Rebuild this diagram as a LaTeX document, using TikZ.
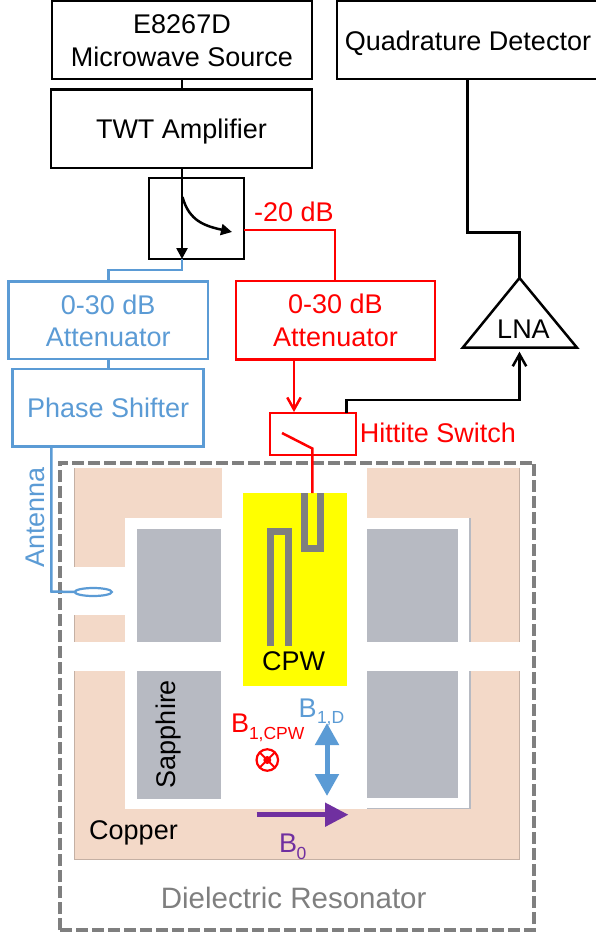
\documentclass[tikz,border=0pt]{standalone}
\usepackage{fontspec}
\setmainfont{Liberation Sans}
\usetikzlibrary{arrows.meta,calc,shapes.geometric}
\definecolor{myblue}{RGB}{91,155,213}
\definecolor{mypurple}{RGB}{112,48,160}
\definecolor{myred}{RGB}{255,0,0}
\definecolor{myyellow}{RGB}{255,255,0}
\definecolor{copperc}{RGB}{243,217,200}
\definecolor{copperedge}{RGB}{196,176,164}
\definecolor{sapph}{RGB}{183,186,194}
\definecolor{lab}{RGB}{127,127,127}
\newcommand{\fh}[1]{\rule{0pt}{#1pt}}
\newcommand{\fd}{\rule[-5.7pt]{0pt}{5.7pt}}
\tikzset{
  sys/.style={x=1pt,y=-1pt},
  boxk/.style={draw=black,line width=2.5pt,inner sep=0pt,outer sep=0pt,anchor=north west,align=center,font=\fontsize{27}{32.5}\selectfont},
  boxb/.style={boxk,draw=myblue,text=myblue},
  boxr/.style={boxk,draw=myred,text=myred},
  wire/.style={line width=2.5pt,line join=miter},
  wireb/.style={wire,draw=myblue},
  wirer/.style={wire,draw=myred},
  tipk/.style={-{Triangle[length=11pt,width=11pt]}},
  tipo/.style={-{Straight Barb[length=12pt,width=13.5pt,line width=2.5pt]}},
  lbl/.style={inner sep=0pt,outer sep=0pt,anchor=base,font=\fontsize{27}{33}\selectfont},
  lblw/.style={lbl,anchor=base west},
  subl/.style={inner sep=0pt,outer sep=0pt,anchor=base west,font=\fontsize{17.5}{21}\selectfont},
  copperfill/.style={fill=copperc,draw=none},
  whitefill/.style={fill=white,draw=none},
  sapphfill/.style={fill=sapph,draw=none},
  meander/.style={draw=lab,line width=6.5pt,line join=miter},
}
\begin{document}
\begin{tikzpicture}[sys]
\useasboundingbox (0,0) rectangle (595,935);
% copper block
\fill[copperfill] (74.7,468) rectangle (519,859);
\draw[copperedge,line width=.7pt] (519,468) -- (519,859) -- (74.7,859) -- (74.7,671);
\draw[copperedge,line width=.7pt] (74.7,468) -- (74.7,567) (74.7,615) -- (74.7,642);
% cavity
\fill[whitefill] (125,518.3) rectangle (469,808.5);
\fill[whitefill] (222,460) rectangle (367,520);
\fill[whitefill] (60,567) rectangle (130,615);
\fill[whitefill] (60,642) rectangle (530,671);
\fill[sapphfill] (469,518.3) rectangle (470.5,642);
\fill[sapphfill] (469,671) rectangle (470.5,808.5);
\fill[sapphfill] (367,808) rectangle (470.5,809);
% sapphire
\fill[sapphfill] (136.5,528.5) rectangle (221,642);
\fill[sapphfill] (136.5,671) rectangle (221,799);
\fill[sapphfill] (367,528.5) rectangle (458,642);
\fill[sapphfill] (367,671) rectangle (458,798);
% CPW
\fill[myyellow] (243,493) rectangle (347,686);
\draw[meander] (304.3,493) -- (304.3,548.6) -- (320.7,548.6) -- (320.7,493);
\draw[meander] (270.3,646) -- (270.3,531.3) -- (288.5,531.3) -- (288.5,646);
% dashed resonator frame
\draw[lab,line width=4pt,dash pattern=on 12pt off 4pt] (59.7,930) -- (59.7,462.5) -- (534.3,462.5) -- (534.3,930) -- cycle;
% boxes
\node[boxk,minimum width=260pt,minimum height=78pt] (src) at (52,1) {\fh{25.2}E8267D\\Microwave Source\fd};
\node[boxk,minimum width=261pt,minimum height=78.5pt] (twt) at (51,89.5) {\fh{24.2}\fd TWT Amplifier};
\node[boxk,minimum width=95pt,minimum height=81pt] (coup) at (149,178) {};
\node[boxk,minimum width=262pt,minimum height=78pt] (qd) at (337,1) {\fh{25.7}\fd Quadrature Detector};
\node[boxb,minimum width=199.5pt,minimum height=77.3pt] (attb) at (8.5,281.7) {\fh{26}0-30 dB\\Attenuator\fd};
\node[boxb,minimum width=191.2pt,minimum height=77.7pt] (phase) at (12.5,369) {\fh{25.4}\fd Phase Shifter};
\node[boxr,minimum width=199pt,minimum height=78.3pt] (attr) at (236,281) {\fh{25.4}0-30 dB\\Attenuator\fd};
\node[boxr,minimum width=86pt,minimum height=42pt] (sw) at (270,413) {};
\coordinate (lnatop) at (519.5,278);
\coordinate (lnal) at (462.7,347.7);
\coordinate (lnar) at (577,347.7);
\draw[line width=2.5pt,fill=white,line join=miter] (lnal) -- (lnatop) -- (lnar) -- cycle;
\node[lbl] (lna) at (523.5,338) {LNA};
% reference x positions for connectors
\coordinate (xa) at (182,0);
\coordinate (xb) at (108.5,0);
\coordinate (xq) at (467.7,0);
\coordinate (xs) at (346.5,0);
\coordinate (xr) at (335,0);
\coordinate (xd) at (294,0);
\coordinate (xt) at (312.3,0);
\coordinate (xant) at (51.3,0);
% black connectors
\draw[wire] (xa |- src.south) -- (xa |- twt.north);
\draw[wire,tipk] (xa |- twt.south) -- (xa |- coup.south);
\coordinate (cs) at (182.5,197);
\coordinate (ce) at (232,232);
\draw[wire,tipk] (cs) .. controls (189,221) and (205,226) .. (ce);
\coordinate (qb) at (467.7,232.7);
\draw[wire] (xq |- qd.south) -- (qb) -- (lnatop |- qb) -- (lnatop);
\coordinate (swb) at (346.5,400);
\coordinate (lnain) at (519.5,351.7);
\draw[wire,tipo] (xs |- sw.north) -- (swb) -- (lnain |- swb) -- (lnain);
% blue connectors
\coordinate (bb) at (182,270);
\draw[wireb] (xa |- coup.south) -- (bb) -- (xb |- bb) -- (xb |- attb.north);
\draw[wireb] (xb |- attb.south) -- (xb |- phase.north);
\coordinate (ab) at (51.3,591.5);
\node[draw=myblue,line width=2.2pt,ellipse,minimum width=37pt,minimum height=8pt,inner sep=0pt,outer sep=0pt] (loop) at (93.3,592) {};
\draw[wireb] (xant |- phase.south) -- (ab) -- (loop.west);
% red connectors
\coordinate (ra) at (244,230);
\draw[wirer] (coup.east |- ra) -- (xr |- ra) -- (xr |- attr.north);
\coordinate (re) at (294,412);
\draw[wirer,tipo] (xd |- attr.south) -- (re);
\coordinate (sa) at (282,433);
\coordinate (sb) at (312.3,448.5);
\coordinate (sc) at (312.3,493);
\draw[wirer] (sa) -- (sb) -- (sc);
% labels
\node[lbl,text=myred] (db) at (294,221.7) {-20 dB};
\node[lbl,text=myred] (hs) at (438,442.7) {Hittite Switch};
\node[lbl,text=myblue,rotate=90] (ant) at (45,517.5) {Antenna};
\node[lbl] (cpw) at (293.5,670.7) {CPW};
\node[lbl,rotate=90] (sap) at (175,734) {Sapphire};
\node[lbl] (cu) at (133.5,839) {Copper};
\node[lbl,text=lab,font=\fontsize{29.5}{35}\selectfont] (dr) at (293.7,908.3) {Dielectric Resonator};
\node[lblw,text=myred] (b1c) at (231,732.7) {B};
\node[subl,text=myred] (b1cs) at (249,739.3) {1,CPW};
\node[lblw,text=myblue] (b1d) at (298.5,717.3) {B};
\node[subl,text=myblue] (b1ds) at (317,723.3) {1,D};
\node[lblw,text=mypurple] (b0) at (279,852.7) {B};
\node[subl,text=mypurple] (b0s) at (296.5,859) {0};
% field symbols
\node[draw=myred,line width=2.2pt,circle,minimum size=21.5pt,inner sep=0pt,outer sep=0pt] (ot) at (267.3,760) {};
\draw[myred,line width=2pt] (ot.45) -- (ot.225) (ot.135) -- (ot.315);
\fill[myred] (ot.center) circle (4pt);
\coordinate (bda) at (327,723);
\coordinate (bdb) at (327,796);
\draw[myblue,line width=5pt,{Triangle[length=22pt,width=23pt]}-{Triangle[length=22pt,width=23pt]}] (bda) -- (bdb);
\coordinate (boa) at (256.7,814.7);
\coordinate (bob) at (348.5,814.7);
\draw[mypurple,line width=5pt,-{Triangle[length=23.5pt,width=23pt]}] (boa) -- (bob);
\end{tikzpicture}
\end{document}
